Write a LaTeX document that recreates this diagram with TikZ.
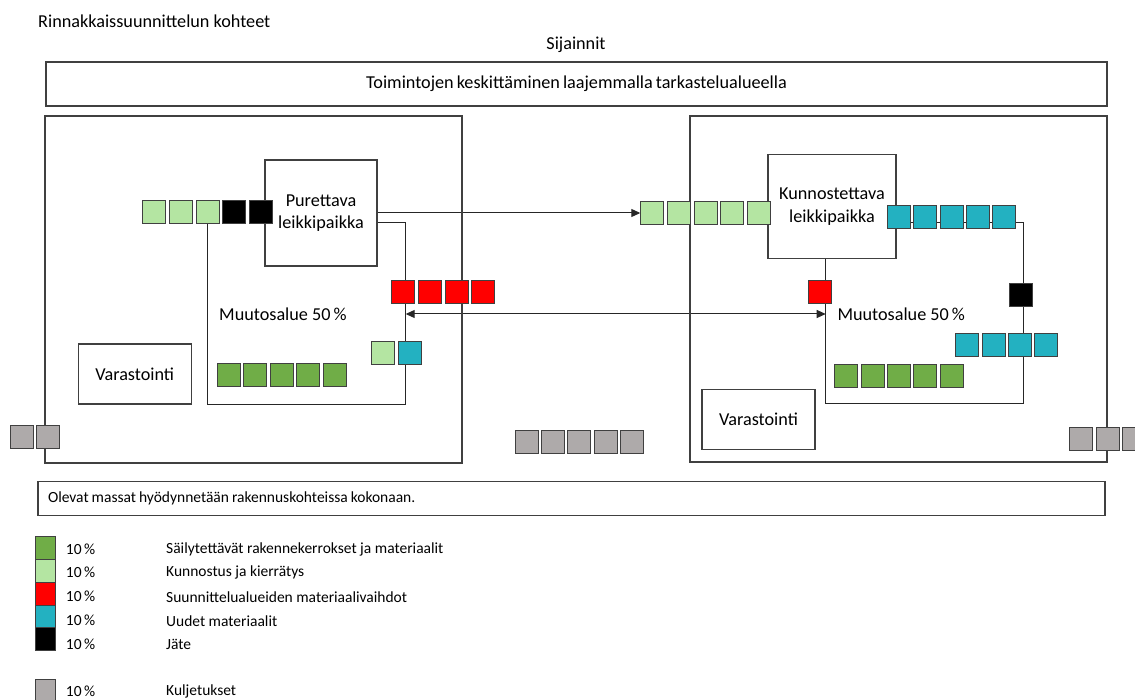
\documentclass[tikz,border=0pt]{standalone}
\usepackage{fontspec}
\setmainfont{Carlito}
\usetikzlibrary{arrows.meta,backgrounds}
\definecolor{keepgreen}{HTML}{70AD47}
\definecolor{fixgreen}{HTML}{B4E5A2}
\definecolor{newteal}{HTML}{23B1C1}
\definecolor{haulgray}{HTML}{AEAAAA}
\definecolor{sqedge}{HTML}{404040}
\tikzset{
BOX/.style={draw=sqedge,line width=1.2pt,inner sep=0pt},
SQ/.style={draw=sqedge,line width=1pt,minimum size=23pt,inner sep=0pt,fill=#1},
KEY/.style={draw=sqedge,line width=0.8pt,minimum width=20pt,minimum height=22.8pt,inner sep=0pt,fill=#1},
LINE/.style={draw=black!85,line width=1pt},
TXT/.style={inner sep=0pt,anchor=west},
SMALL/.style={font=\fontsize{15.5}{18}\selectfont},
}

\begin{document}
\begin{tikzpicture} %massavirrat
[x=1pt,y=-1pt,font=\fontsize{18.2}{22.5}\selectfont,>={Triangle[length=9pt,width=8pt]}]
	\useasboundingbox (0,0) rectangle (1135,700);
	\node[TXT] (title) at (38,21) {Rinnakkaissuunnittelun kohteet};
	\node (sij) at (576,45) {Sijainnit};
	\node[BOX,minimum width=1061pt,minimum height=44pt] (band) at (576.5,84) {\spaceskip=3pt Toimintojen keskittäminen laajemmalla tarkastelualueella};
	\node[BOX,minimum width=417pt,minimum height=347pt] (site1) at (253.5,289.5) {};
	\node[BOX,minimum width=417pt,minimum height=346pt] (site2) at (898.5,289) {};
	\node[BOX,fill=white,minimum width=112pt,minimum height=106pt,align=center] (pur) at (321,213) {Purettava\\leikkipaikka};
	\node[BOX,fill=white,minimum width=128pt,minimum height=104pt,align=center] (kun) at (832,206.5) {Kunnostettava\\leikkipaikka};
	\node[BOX,minimum width=113pt,minimum height=60pt] (var1) at (134.7,374) {Varastointi};
	\node[BOX,minimum width=113pt,minimum height=60pt] (var2) at (758.5,419.3) {Varastointi};
	\node[TXT] (mu1) at (219,314) {Muutosalue 50\,\%};
	\node[TXT] (mu2) at (837.3,314) {Muutosalue 50\,\%};
	\node[BOX,SMALL,minimum width=1067pt,minimum height=34pt,text width=1047pt,inner xsep=10pt,align=left] (olevat) at (571.5,498.7) {\spaceskip=3pt Olevat massat hyödynnetään rakennuskohteissa kokonaan.};
% vasen kohde
	\node[SQ=fixgreen] (lg1) at (154.3,212) {};
	\node[SQ=fixgreen] (lg2) at (181,212) {};
	\node[SQ=fixgreen] (lg3) at (207.7,212) {};
	\node[SQ=black] (bk1) at (234.3,212) {};
	\node[SQ=black] (bk2) at (261,212) {};
	\node[SQ=red] (rd1) at (403.3,292) {};
	\node[SQ=red] (rd2) at (430,292) {};
	\node[SQ=red] (rd3) at (456.7,292) {};
	\node[SQ=red] (rd4) at (483.3,292) {};
	\node[SQ=fixgreen] (lg4) at (383.3,353) {};
	\node[SQ=newteal] (tl1) at (409.7,353) {};
	\node[SQ=keepgreen] (gr1) at (228.7,374.7) {};
	\node[SQ=keepgreen] (gr2) at (255,374.7) {};
	\node[SQ=keepgreen] (gr3) at (281.7,374.7) {};
	\node[SQ=keepgreen] (gr4) at (308.3,374.7) {};
	\node[SQ=keepgreen] (gr5) at (335,374.7) {};
	\node[SQ=haulgray] (gy1) at (21.7,437) {};
	\node[SQ=haulgray] (gy2) at (47.7,437) {};
	\node[SQ=haulgray] (gy3) at (526.7,441.7) {};
	\node[SQ=haulgray] (gy4) at (553,441.7) {};
	\node[SQ=haulgray] (gy5) at (579.3,441.7) {};
	\node[SQ=haulgray] (gy6) at (605.7,441.7) {};
	\node[SQ=haulgray] (gy7) at (632,441.7) {};
% oikea kohde
	\node[SQ=fixgreen] (rlg1) at (652.3,213) {};
	\node[SQ=fixgreen] (rlg2) at (679,213) {};
	\node[SQ=fixgreen] (rlg3) at (705.7,213) {};
	\node[SQ=fixgreen] (rlg4) at (732.3,213) {};
	\node[SQ=fixgreen] (rlg5) at (759,213) {};
	\node[SQ=newteal] (rtl1) at (899,217) {};
	\node[SQ=newteal] (rtl2) at (925.3,217) {};
	\node[SQ=newteal] (rtl3) at (951.7,217) {};
	\node[SQ=newteal] (rtl4) at (978,217) {};
	\node[SQ=newteal] (rtl5) at (1004.3,217) {};
	\node[SQ=red] (rrd1) at (820,292) {};
	\node[SQ=black] (rbk1) at (1021,295.3) {};
	\node[SQ=newteal] (rtl6) at (967.3,344.7) {};
	\node[SQ=newteal] (rtl7) at (993.7,344.7) {};
	\node[SQ=newteal] (rtl8) at (1020,344.7) {};
	\node[SQ=newteal] (rtl9) at (1046.3,344.7) {};
	\node[SQ=keepgreen] (rgr1) at (846.3,375.8) {};
	\node[SQ=keepgreen] (rgr2) at (872.7,375.8) {};
	\node[SQ=keepgreen] (rgr3) at (899,375.8) {};
	\node[SQ=keepgreen] (rgr4) at (925.3,375.8) {};
	\node[SQ=keepgreen] (rgr5) at (951.7,375.8) {};
	\node[SQ=haulgray] (rgy1) at (1081,439.2) {};
	\node[SQ=haulgray] (rgy2) at (1107.7,439.2) {};
	\node[SQ=haulgray] (rgy3) at (1134,439.2) {};
% yhteydet
\begin{scope}[on background layer]
	\coordinate (la) at (377,223);
	\coordinate (lb) at (405.7,404);
	\coordinate (ra) at (896,222.7);
	\coordinate (rb) at (1023.3,403.3);
	\coordinate (rc) at (825.7,258.3);
	\coordinate (lx) at (405.7,314);
	\coordinate (rx) at (825.7,314);
	\path[LINE,->] (pur.east) -- (rlg1.west);
	\path[LINE] (la) -| (lb) -| (lg3);
	\path[LINE] (ra) -| (rb) -| (rc);
	\path[LINE,<->] (lx) -- (rx);
\end{scope}
% selite
	\node[KEY=keepgreen] (key1) at (45.7,548) {};
	\node[KEY=fixgreen] (key2) at (45.7,570.8) {};
	\node[KEY=red] (key3) at (45.7,593.7) {};
	\node[KEY=newteal] (key4) at (45.7,616.3) {};
	\node[KEY=black] (key5) at (45.7,639) {};
	\node[KEY=haulgray] (key6) at (45.7,691) {};
	\node[TXT,SMALL] (pct1) at (65.7,549.3) {10\,\%};
	\node[TXT,SMALL] (pct2) at (65.7,572.7) {10\,\%};
	\node[TXT,SMALL] (pct3) at (65.7,596.7) {10\,\%};
	\node[TXT,SMALL] (pct4) at (65.7,620.7) {10\,\%};
	\node[TXT,SMALL] (pct5) at (65.7,644) {10\,\%};
	\node[TXT,SMALL] (pct6) at (65.7,691.5) {10\,\%};
	\node[TXT,SMALL] (txt1) at (166,549.3) {Säilytettävät rakennekerrokset ja materiaalit};
	\node[TXT,SMALL] (txt2) at (166,572.7) {Kunnostus ja kierrätys};
	\node[TXT,SMALL] (txt3) at (166,596.7) {Suunnittelualueiden materiaalivaihdot};
	\node[TXT,SMALL] (txt4) at (166,620.7) {Uudet materiaalit};
	\node[TXT,SMALL] (txt5) at (166,644) {Jäte};
	\node[TXT,SMALL] (txt6) at (166,691.5) {Kuljetukset};
\end{tikzpicture}
\end{document}
